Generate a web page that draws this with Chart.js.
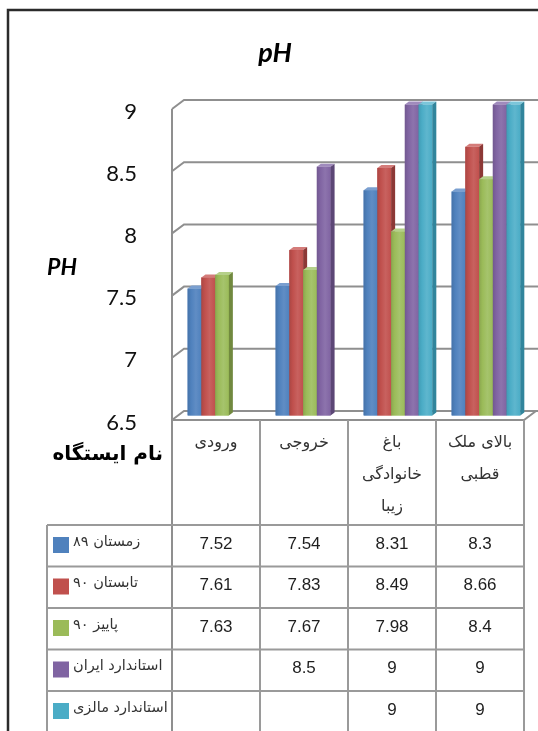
<!DOCTYPE html>
<html>
<head>
<meta charset="utf-8">
<script src="https://cdn.jsdelivr.net/npm/chart.js@4.4.1/dist/chart.umd.min.js"></script>
<style>
html, body { margin: 0; padding: 0; background: #fff; overflow: hidden; }
canvas { display: block; }
</style>
</head>
<body>
<canvas id="phChart" width="538" height="731"></canvas>
<script>
var stations = [["ورودی"], ["خروجی"], ["باغ", "خانوادگی", "زیبا"], ["بالای ملک", "قطبی"]];
var seriesNames = ["زمستان ۸۹", "تابستان ۹۰", "پاییز ۹۰", "استاندارد ایران", "استاندارد مالزی"];
var winter89 = [7.52, 7.54, 8.31, 8.3];
var summer90 = [7.61, 7.83, 8.49, 8.66];
var autumn90 = [7.63, 7.67, 7.98, 8.4];
var iranStd = [null, 8.5, 9, 9];
var malaysiaStd = [null, null, 9, 9];
var yTicks = [6.5, 7, 7.5, 8, 8.5, 9];

var barColors = ["#4F81BD", "#C0504D", "#9BBB59", "#8064A2", "#4BACC6"];
var sideColors = ["#385d8a", "#8c3836", "#71893f", "#5c4776", "#31859c"];
var topColors = ["#7a9fd0", "#d47c7a", "#b5d08a", "#a08bbd", "#7cc6da"];

var allSeries = [winter89, summer90, autumn90, iranStd, malaysiaStd];

// half depth of the 3d walls, and depth of one bar
var wallDx = 6, wallDy = 4.5;
var barDx = 4, barDy = 3;

var threeD = {
  id: 'threeD',
  beforeDatasetsDraw: function(chart) {
    var ctx = chart.ctx, a = chart.chartArea, y = chart.scales.y;
    var fl = a.left - wallDx, bl = a.left + wallDx, fr = a.right - wallDx, br = a.right + wallDx;
    var fy = y.getPixelForValue(yTicks[0]);
    ctx.save();
    ctx.strokeStyle = '#8f8f8f';
    ctx.lineWidth = 2;
    yTicks.forEach(function(v) {
      var py = y.getPixelForValue(v);
      ctx.beginPath();
      ctx.moveTo(fl, py + wallDy);
      ctx.lineTo(bl, py - wallDy);
      ctx.lineTo(540, py - wallDy);
      ctx.stroke();
    });
    // floor front edge
    ctx.beginPath();
    ctx.moveTo(fl, fy + wallDy);
    ctx.lineTo(fr, fy + wallDy);
    ctx.lineTo(br, fy - wallDy);
    ctx.stroke();
    // side wall edge, runs on into the table
    ctx.beginPath();
    ctx.moveTo(fl, y.getPixelForValue(yTicks[yTicks.length - 1]) + wallDy);
    ctx.lineTo(fl, 731);
    ctx.stroke();
    ctx.restore();
  },
  afterDatasetsDraw: function(chart) {
    var ctx = chart.ctx;
    ctx.save();
    for (var c = 0; c < stations.length; c++) {
      for (var s = 0; s < allSeries.length; s++) {
        if (allSeries[s][c] == null) continue;
        var p = chart.getDatasetMeta(s).data[c].getProps(['x', 'y', 'base', 'width'], true);
        var l = p.x - p.width / 2, r = p.x + p.width / 2, t = p.y, b = p.base;
        var g = ctx.createLinearGradient(l, 0, r, 0);
        g.addColorStop(0, sideColors[s]);
        g.addColorStop(0.25, barColors[s]);
        g.addColorStop(0.6, topColors[s]);
        g.addColorStop(1, barColors[s]);
        ctx.fillStyle = barColors[s];
        ctx.fillRect(l, t, r - l, b - t);
        ctx.globalAlpha = 0.4;
        ctx.fillStyle = g;
        ctx.fillRect(l, t, r - l, b - t);
        ctx.globalAlpha = 1;
        ctx.fillStyle = topColors[s];
        ctx.beginPath();
        ctx.moveTo(l, t);
        ctx.lineTo(l + barDx, t - barDy);
        ctx.lineTo(r + barDx, t - barDy);
        ctx.lineTo(r, t);
        ctx.closePath();
        ctx.fill();
        ctx.fillStyle = sideColors[s];
        ctx.beginPath();
        ctx.moveTo(r, t);
        ctx.lineTo(r + barDx, t - barDy);
        ctx.lineTo(r + barDx, b - barDy);
        ctx.lineTo(r, b);
        ctx.closePath();
        ctx.fill();
      }
    }
    ctx.restore();
  },
  afterDraw: function(chart) {
    var ctx = chart.ctx, a = chart.chartArea, x = chart.scales.x, y = chart.scales.y;
    ctx.save();

    // outer frame
    ctx.strokeStyle = '#2b2b2b';
    ctx.lineWidth = 2.5;
    ctx.beginPath();
    ctx.moveTo(8, 731);
    ctx.lineTo(8, 10);
    ctx.lineTo(540, 10);
    ctx.stroke();

    // titles
    ctx.fillStyle = '#000';
    ctx.textAlign = 'center';
    ctx.textBaseline = 'middle';
    ctx.font = 'italic bold 27px Lato';
    ctx.fillText('pH', 275, 53);
    ctx.font = 'italic bold 23px Lato';
    ctx.fillText('PH', 62, 268);

    // data table
    var cw = (a.right - a.left) / stations.length;
    var bounds = [];
    for (var i = 0; i <= stations.length; i++) bounds.push(a.left - wallDx + i * cw);
    var headTop = y.getPixelForValue(yTicks[0]) + wallDy;
    var rowTop = 525, rowH = 41.5, tableLeft = 47;
    var right = bounds[bounds.length - 1];

    ctx.strokeStyle = '#9a9a9a';
    ctx.lineWidth = 2;
    for (i = 1; i < bounds.length; i++) {
      ctx.beginPath();
      ctx.moveTo(bounds[i], headTop);
      ctx.lineTo(bounds[i], 731);
      ctx.stroke();
    }
    ctx.beginPath();
    ctx.moveTo(tableLeft, rowTop);
    ctx.lineTo(tableLeft, 731);
    ctx.stroke();
    for (i = 0; i <= seriesNames.length; i++) {
      ctx.beginPath();
      ctx.moveTo(tableLeft, rowTop + i * rowH);
      ctx.lineTo(right, rowTop + i * rowH);
      ctx.stroke();
    }

    ctx.direction = 'rtl';
    ctx.fillStyle = '#000';
    ctx.textAlign = 'right';
    ctx.font = 'bold 20px "DejaVu Sans"';
    ctx.fillText('نام ایستگاه', 163, 455);

    ctx.fillStyle = '#333';
    ctx.textAlign = 'center';
    ctx.font = '16px "DejaVu Sans"';
    stations.forEach(function(lines, c) {
      var cx = x.getPixelForValue(c) - wallDx;
      lines.forEach(function(line, j) {
        ctx.fillText(line, cx, 443 + j * 32);
      });
    });

    seriesNames.forEach(function(name, s) {
      var top = rowTop + s * rowH;
      ctx.fillStyle = barColors[s];
      ctx.fillRect(53, top + 12, 16, 16);
      ctx.fillStyle = '#333';
      ctx.direction = 'rtl';
      ctx.textAlign = 'left';
      ctx.font = '14.5px "DejaVu Sans"';
      ctx.fillText(name, 73, top + 17);
      ctx.direction = 'ltr';
      ctx.textAlign = 'center';
      ctx.font = '17px "Liberation Sans"';
      ctx.fillStyle = '#1e1e1e';
      allSeries[s].forEach(function(v, c) {
        if (v == null) return;
        ctx.fillText(String(v), x.getPixelForValue(c) - wallDx, top + 19);
      });
    });
    ctx.restore();
  }
};

new Chart("phChart", {
  type: "bar",
  data: {
    labels: stations,
    datasets: allSeries.map(function(vals, i) {
      return {
        label: seriesNames[i],
        data: vals,
        base: yTicks[0],
        backgroundColor: barColors[i],
        barPercentage: 1,
        categoryPercentage: 0.78
      };
    })
  },
  options: {
    responsive: false,
    animation: false,
    layout: { padding: { left: 0, top: 104.5, right: 8, bottom: 315.5 } },
    plugins: {
      legend: { display: false },
      title: { display: false },
      tooltip: { enabled: false }
    },
    scales: {
      x: { display: false },
      y: {
        min: 6.5,
        max: 9,
        afterFit: function(s) { s.width = 178; },
        afterBuildTicks: function(s) { s.ticks = yTicks.map(function(v) { return { value: v }; }); },
        grid: { display: false },
        border: { display: false },
        ticks: {
          padding: 33,
          labelOffset: 7,
          color: '#111',
          font: { family: 'Lato', size: 22 },
          callback: function(v) { return String(v); }
        }
      }
    }
  },
  plugins: [threeD]
});
</script>
</body>
</html>
